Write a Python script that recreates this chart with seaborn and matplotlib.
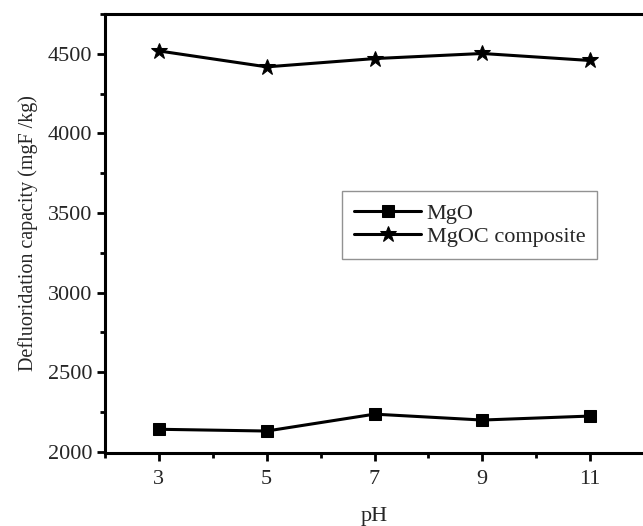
import matplotlib
matplotlib.use("Agg")
import matplotlib.pyplot as plt
from matplotlib.ticker import MultipleLocator
import pandas as pd
import seaborn as sns

PH = [3, 5, 7, 9, 11]
MGO = [2142, 2131, 2237, 2200, 2225]
MGOC = [4518, 4418, 4470, 4502, 4458]
SERIES = ["MgO", "MgOC composite"]

df = pd.DataFrame({
    "pH": PH * 2,
    "capacity": MGO + MGOC,
    "material": [SERIES[0]] * len(PH) + [SERIES[1]] * len(PH),
})

sns.set_theme(style="ticks")
plt.rcParams["font.family"] = ["Liberation Serif", "DejaVu Serif"]

fig = plt.figure(figsize=(6.43, 5.26), dpi=100)
ax = fig.add_axes([105 / 643, 1 - 453 / 526, 539 / 643, 439 / 526])

sns.lineplot(
    data=df, x="pH", y="capacity", hue="material", style="material",
    markers={"MgO": "s", "MgOC composite": "*"}, dashes=False,
    palette=["black", "black"], linewidth=2.2, ax=ax,
    markeredgecolor="black",
)
for line in ax.lines:
    if line.get_marker() == "*":
        line.set_markersize(12)
    else:
        line.set_markersize(8.5)

ax.set_xlim(2, 12)
ax.set_ylim(1993, 4750)
ax.set_xticks(PH)
ax.set_yticks([2000, 2500, 3000, 3500, 4000, 4500])
ax.xaxis.set_minor_locator(MultipleLocator(1))
ax.yaxis.set_minor_locator(MultipleLocator(250))
ax.tick_params(which="major", direction="out", length=6, width=2, labelsize=16, color="black")
ax.tick_params(which="minor", direction="out", length=3.5, width=2, color="black")
ax.tick_params(axis="y", which="major", pad=3)
ax.tick_params(axis="x", which="major", pad=6)

for side in ["left", "bottom", "top"]:
    ax.spines[side].set_linewidth(2.2)
    ax.spines[side].set_color("black")
ax.spines["right"].set_linewidth(0.6)
ax.spines["right"].set_color("#cccccc")

ax.set_xlabel("pH", fontsize=16, labelpad=13)
ax.set_ylabel("Defluoridation capacity (mgF /kg)", fontsize=14.5, labelpad=7)

leg = ax.legend(
    loc="upper left", bbox_to_anchor=(0.44, 0.597), fontsize=16,
    frameon=True, fancybox=False, edgecolor="#777777", handlelength=3.0,
    borderpad=0.55, labelspacing=0.12, handletextpad=0.25, borderaxespad=0,
)
leg.get_frame().set_linewidth(1.0)

fig.savefig("out.png", dpi=100)
